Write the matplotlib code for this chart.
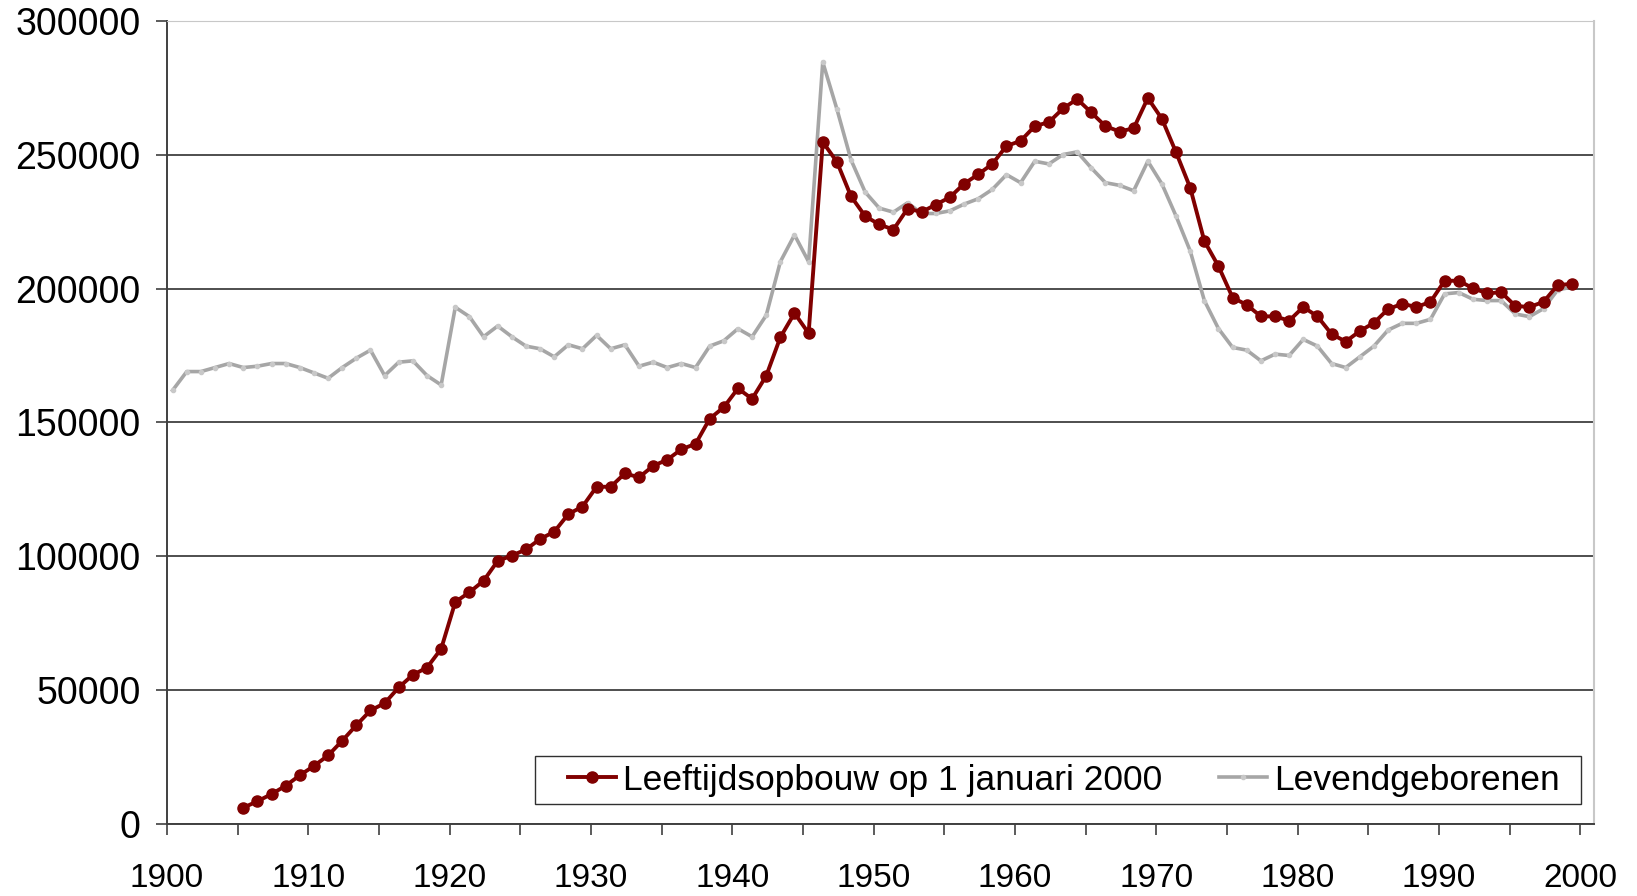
import numpy as np
import matplotlib
matplotlib.use("Agg")
from matplotlib import pyplot as plt
from matplotlib.patches import Rectangle

# Levendgeborenen 1900-1999
born_years = list(range(1900, 2000))
born = [162000, 169000, 169000, 170500, 172000, 170500, 171000, 172000, 172000, 170500,
        168500, 166500, 170500, 174000, 177000, 167500, 172500, 173000, 167500, 164000,
        193000, 189500, 182000, 186000, 182000, 178500, 177500, 174500, 179000, 177500,
        182500, 177500, 179000, 171000, 172500, 170500, 172000, 170500, 178500, 180500,
        185000, 182000, 190000, 210000, 220000, 210000, 284500, 267000, 248000, 236000,
        230000, 228500, 232000, 228000, 228000, 229000, 231500, 233500, 237000, 242500,
        239500, 247500, 246500, 250000, 251000, 245000, 239500, 238500, 236500, 247500,
        239000, 227000, 214000, 195500, 185000, 178000, 177000, 173000, 175500, 175000,
        181000, 178500, 172000, 170500, 174500, 178500, 184500, 187000, 187000, 188500,
        198000, 198500, 196000, 195500, 195500, 190500, 189500, 192500, 199500, 200500]

# Leeftijdsopbouw op 1 januari 2000, geboortejaar 1905-1999
age_years = list(range(1905, 2000))
age = [6200, 8600, 11300, 14400, 18300, 21800, 25700, 31200, 37000, 42500,
       45200, 51100, 55800, 58500, 65500, 83000, 86600, 90900, 98300, 100300,
       102600, 106500, 109200, 115800, 118600, 126000, 126000, 131000, 129500, 133800,
       136100, 140000, 142000, 151400, 155700, 162700, 158800, 167400, 181800, 190800,
       183300, 254700, 247300, 234400, 227000, 223900, 222000, 229800, 228600, 231300,
       234100, 239100, 242600, 246500, 253200, 255100, 260600, 262100, 267200, 270700,
       265700, 260600, 258600, 259800, 271100, 263300, 250800, 237600, 217700, 208300,
       196600, 193900, 189600, 189600, 188000, 193100, 189600, 183000, 180200, 184100,
       187200, 192300, 194300, 193100, 195000, 202900, 202900, 200100, 198200, 198600,
       193500, 193100, 195000, 201300, 201700]

labels = ['Leeftijdsopbouw op 1 januari 2000', 'Levendgeborenen']
red = '#800000'
grey = '#a6a6a6'

plt.rcParams['font.family'] = ['Liberation Sans', 'DejaVu Sans']

fig = plt.figure(figsize=(16.37, 8.96), dpi=100)
ax = fig.add_axes([0.102, 0.080, 0.872, 0.897])

ax.plot(np.array(age_years) + 0.4, age, color=red, lw=2.8, marker='o', ms=8,
        label=labels[0], zorder=3)
ax.plot(np.array(born_years) + 0.4, born, color=grey, lw=2.6, marker='o', ms=3,
        mfc='#c8c8c8', mec='#c8c8c8', label=labels[1], zorder=2)

ax.set_xlim(1900, 2001)
ax.set_ylim(0, 300000)
ax.set_xticks(range(1900, 2001, 10))
ax.set_xticks(range(1905, 2001, 10), minor=True)
ax.set_yticks(range(0, 300001, 50000))
ax.tick_params(axis='both', which='both', direction='out', length=8, width=1.2,
               color='#404040')
ax.tick_params(axis='x', labelsize=24, pad=20)
ax.tick_params(axis='y', labelsize=27, pad=11)

ax.grid(axis='y', color='#303030', lw=1.2, zorder=0)
ax.set_axisbelow(True)
ax.spines['left'].set_color('#404040')
ax.spines['left'].set_linewidth(1.4)
ax.spines['bottom'].set_color('#404040')
ax.spines['bottom'].set_linewidth(1.4)
ax.spines['top'].set_color('#c8c8c8')
ax.spines['right'].set_color('#c8c8c8')
ax.spines['right'].set_linewidth(1.5)

# legend frame drawn separately (wider side padding than matplotlib's)
ax.add_patch(Rectangle((0.258, 0.025), 0.7325, 0.0595, transform=ax.transAxes,
                       facecolor='white', edgecolor='#303030', lw=1.0, zorder=4))
leg = ax.legend(loc='center left', ncol=2, fontsize=25.5, frameon=False,
                columnspacing=1.6, handlelength=1.35, handletextpad=0.2,
                borderpad=0, borderaxespad=0, bbox_to_anchor=(0.281, 0.0547))
leg.set_zorder(5)

plt.savefig('out.png', dpi=100)
